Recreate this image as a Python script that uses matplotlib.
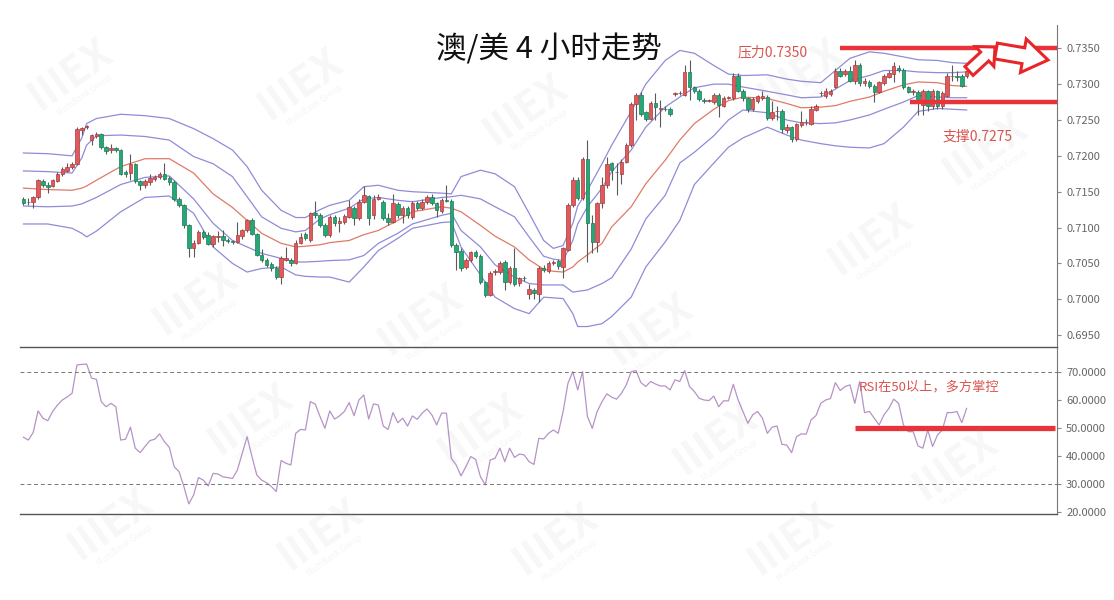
import numpy as np
import matplotlib.pyplot as plt
from matplotlib.patches import FancyArrow
from matplotlib.transforms import IdentityTransform
from matplotlib.ticker import FormatStrFormatter

plt.rcParams['font.family'] = ['Noto Sans CJK SC', 'DejaVu Sans']

# AUD/USD 4h candles, prices in 1/10000
opens = [7140, 7136, 7136, 7142, 7165, 7159, 7158, 7165, 7174, 7179,
         7184, 7188, 7236, 7240, 7222, 7227, 7230, 7212, 7208, 7211,
         7208, 7177, 7176, 7188, 7165, 7159, 7164, 7168, 7171, 7175,
         7169, 7164, 7140, 7131, 7103, 7071, 7079, 7094, 7089, 7077,
         7087, 7088, 7082, 7081, 7080, 7088, 7096, 7111, 7091, 7062,
         7055, 7049, 7044, 7031, 7055, 7055, 7051, 7079, 7091, 7082,
         7121, 7118, 7104, 7089, 7115, 7106, 7108, 7115, 7127, 7113,
         7136, 7144, 7117, 7140, 7136, 7113, 7108, 7133, 7117, 7127,
         7115, 7134, 7127, 7136, 7143, 7134, 7123, 7138, 7137, 7075,
         7068, 7045, 7055, 7066, 7061, 7024, 7006, 7038, 7038, 7052,
         7024, 7044, 7023, 7030, 7008, 7013, 7008, 7043, 7039, 7050,
         7053, 7045, 7069, 7131, 7167, 7141, 7196, 7107, 7080, 7134,
         7159, 7190, 7178, 7175, 7192, 7215, 7272, 7285, 7261, 7252,
         7274, 7266, 7266, 7266, 7286, 7287, 7285, 7317, 7296, 7291,
         7278, 7277, 7275, 7285, 7270, 7281, 7280, 7312, 7291, 7280,
         7265, 7276, 7281, 7282, 7253, 7262, 7263, 7236, 7240, 7223,
         7243, 7247, 7245, 7264, 7287, 7284, 7286, 7296, 7319, 7314,
         7319, 7305, 7326, 7301, 7303, 7298, 7289, 7301, 7310, 7314,
         7322, 7320, 7296, 7289, 7289, 7271, 7290, 7269, 7290, 7269,
         7284, 7311, 7311, 7312, 7311]
highs = [7143, 7141, 7144, 7168, 7168, 7164, 7168, 7177, 7185, 7190,
         7192, 7240, 7240, 7243, 7231, 7233, 7232, 7214, 7217, 7213,
         7210, 7180, 7203, 7190, 7167, 7168, 7175, 7173, 7178, 7190,
         7172, 7166, 7142, 7133, 7105, 7082, 7097, 7097, 7094, 7090,
         7095, 7096, 7085, 7083, 7108, 7098, 7112, 7114, 7093, 7070,
         7057, 7052, 7046, 7060, 7073, 7058, 7082, 7092, 7094, 7122,
         7137, 7120, 7106, 7117, 7118, 7115, 7119, 7138, 7130, 7140,
         7158, 7146, 7145, 7147, 7138, 7120, 7147, 7136, 7130, 7130,
         7137, 7137, 7140, 7146, 7147, 7136, 7141, 7159, 7140, 7078,
         7071, 7058, 7068, 7069, 7063, 7026, 7040, 7042, 7054, 7055,
         7047, 7072, 7031, 7032, 7022, 7016, 7046, 7048, 7053, 7055,
         7056, 7073, 7134, 7170, 7170, 7199, 7222, 7117, 7136, 7171,
         7198, 7192, 7190, 7195, 7218, 7275, 7287, 7289, 7263, 7276,
         7288, 7278, 7270, 7268, 7289, 7290, 7326, 7333, 7298, 7293,
         7280, 7279, 7288, 7288, 7283, 7284, 7315, 7316, 7293, 7282,
         7282, 7285, 7291, 7285, 7277, 7270, 7266, 7245, 7242, 7246,
         7263, 7252, 7270, 7272, 7291, 7294, 7293, 7322, 7322, 7321,
         7325, 7333, 7330, 7308, 7306, 7300, 7305, 7314, 7320, 7331,
         7327, 7322, 7298, 7293, 7292, 7293, 7292, 7293, 7292, 7290,
         7316, 7326, 7318, 7314, 7322]
lows = [7131, 7131, 7127, 7140, 7157, 7148, 7156, 7163, 7172, 7177,
        7182, 7187, 7229, 7238, 7215, 7225, 7210, 7203, 7204, 7205,
        7173, 7171, 7166, 7162, 7152, 7155, 7160, 7165, 7168, 7166,
        7160, 7137, 7129, 7100, 7059, 7059, 7077, 7084, 7075, 7073,
        7080, 7074, 7078, 7077, 7078, 7084, 7094, 7089, 7060, 7052,
        7045, 7040, 7028, 7022, 7053, 7047, 7049, 7077, 7083, 7080,
        7113, 7101, 7087, 7087, 7102, 7094, 7105, 7113, 7104, 7111,
        7134, 7103, 7112, 7138, 7110, 7103, 7106, 7114, 7106, 7114,
        7112, 7124, 7124, 7133, 7131, 7115, 7121, 7135, 7073, 7041,
        7040, 7042, 7052, 7057, 7022, 7003, 7004, 7034, 7035, 7013,
        7021, 7019, 7019, 7026, 7001, 7001, 6996, 7038, 7036, 7048,
        7042, 7029, 7067, 7129, 7138, 7138, 7052, 7064, 7066, 7127,
        7155, 7166, 7145, 7161, 7190, 7213, 7250, 7255, 7248, 7250,
        7250, 7240, 7262, 7256, 7284, 7285, 7283, 7278, 7288, 7276,
        7274, 7275, 7272, 7254, 7268, 7279, 7278, 7289, 7277, 7261,
        7262, 7273, 7278, 7250, 7250, 7250, 7232, 7232, 7219, 7221,
        7240, 7243, 7243, 7262, 7284, 7281, 7284, 7294, 7310, 7312,
        7303, 7300, 7298, 7298, 7295, 7275, 7287, 7299, 7308, 7303,
        7317, 7293, 7287, 7285, 7257, 7257, 7262, 7266, 7266, 7266,
        7282, 7305, 7305, 7296, 7309]
closes = [7134, 7135, 7142, 7167, 7159, 7156, 7166, 7175, 7181, 7185,
          7188, 7238, 7239, 7241, 7229, 7231, 7212, 7207, 7211, 7208,
          7175, 7175, 7189, 7165, 7159, 7165, 7169, 7171, 7175, 7168,
          7164, 7140, 7131, 7103, 7071, 7079, 7094, 7087, 7077, 7088,
          7088, 7082, 7081, 7080, 7090, 7096, 7110, 7091, 7062, 7055,
          7048, 7043, 7031, 7057, 7057, 7050, 7079, 7087, 7086, 7120,
          7118, 7103, 7089, 7115, 7106, 7109, 7116, 7128, 7113, 7136,
          7145, 7113, 7140, 7143, 7113, 7108, 7134, 7117, 7127, 7117,
          7134, 7127, 7136, 7142, 7134, 7124, 7138, 7137, 7075, 7066,
          7043, 7055, 7066, 7060, 7024, 7006, 7037, 7039, 7051, 7024,
          7044, 7022, 7029, 7029, 7015, 7009, 7043, 7041, 7050, 7052,
          7046, 7071, 7131, 7167, 7141, 7196, 7107, 7080, 7134, 7159,
          7188, 7180, 7177, 7192, 7215, 7272, 7285, 7259, 7251, 7274,
          7268, 7266, 7265, 7259, 7287, 7288, 7317, 7296, 7291, 7279,
          7277, 7277, 7285, 7271, 7280, 7282, 7312, 7291, 7280, 7265,
          7279, 7283, 7284, 7253, 7261, 7263, 7237, 7240, 7224, 7244,
          7247, 7247, 7266, 7269, 7288, 7291, 7291, 7319, 7312, 7319,
          7305, 7326, 7301, 7305, 7298, 7289, 7303, 7312, 7315, 7325,
          7320, 7296, 7289, 7290, 7276, 7290, 7270, 7290, 7269, 7288,
          7312, 7311, 7310, 7298, 7319]

# band lines read at these candle positions
band_idx = [0, 5, 10, 12, 13, 15, 20, 25, 30, 35,
            39, 43, 46, 49, 53, 56, 58, 61, 63, 67,
            70, 73, 77, 80, 86, 88, 90, 94, 97, 101,
            104, 107, 109, 111, 113, 114, 116, 119, 121, 125,
            128, 132, 135, 138, 142, 145, 148, 153, 157, 160,
            164, 167, 170, 174, 177, 181, 184, 188, 191, 194]
band_top = [7204, 7203, 7200, 7225, 7245, 7252, 7258, 7256, 7252, 7238,
            7224, 7208, 7185, 7152, 7124, 7114, 7114, 7125, 7131, 7138,
            7157, 7159, 7152, 7150, 7148, 7147, 7171, 7180, 7175, 7157,
            7120, 7082, 7071, 7075, 7106, 7130, 7152, 7189, 7215, 7262,
            7300, 7333, 7347, 7343, 7326, 7314, 7312, 7313, 7307, 7304,
            7302, 7319, 7336, 7345, 7343, 7338, 7334, 7333, 7330, 7329]
band_up = [7179, 7178, 7176, 7197, 7215, 7228, 7229, 7227, 7222, 7199,
           7189, 7171, 7143, 7115, 7099, 7094, 7096, 7112, 7118, 7127,
           7140, 7142, 7138, 7136, 7142, 7143, 7145, 7140, 7129, 7115,
           7087, 7060, 7056, 7054, 7082, 7105, 7129, 7155, 7178, 7208,
           7240, 7268, 7282, 7295, 7300, 7300, 7296, 7290, 7285, 7281,
           7282, 7293, 7305, 7312, 7319, 7319, 7317, 7316, 7316, 7317]
band_mid = [7155, 7153, 7152, 7155, 7158, 7166, 7185, 7196, 7196, 7176,
            7147, 7128, 7110, 7092, 7078, 7073, 7074, 7076, 7079, 7082,
            7090, 7096, 7110, 7122, 7129, 7127, 7122, 7103, 7088, 7073,
            7055, 7042, 7039, 7038, 7045, 7052, 7062, 7078, 7101, 7129,
            7161, 7194, 7222, 7245, 7265, 7277, 7282, 7280, 7273, 7267,
            7268, 7270, 7276, 7282, 7290, 7299, 7303, 7302, 7298, 7297]
band_dn = [7130, 7129, 7130, 7133, 7136, 7142, 7160, 7170, 7172, 7140,
           7106, 7082, 7073, 7064, 7057, 7052, 7052, 7053, 7054, 7055,
           7061, 7078, 7092, 7105, 7117, 7120, 7096, 7073, 7048, 7031,
           7022, 7020, 7020, 7020, 7010, 7011, 7013, 7022, 7030, 7070,
           7112, 7145, 7190, 7205, 7228, 7250, 7264, 7260, 7250, 7246,
           7245, 7246, 7250, 7257, 7265, 7275, 7284, 7282, 7281, 7281]
band_bot = [7105, 7105, 7099, 7092, 7087, 7095, 7122, 7142, 7144, 7120,
            7073, 7050, 7038, 7043, 7045, 7034, 7032, 7031, 7031, 7024,
            7045, 7068, 7085, 7099, 7107, 7108, 7073, 7034, 7003, 6987,
            6980, 7003, 7002, 7001, 6980, 6962, 6962, 6966, 6976, 7003,
            7045, 7080, 7110, 7160, 7190, 7212, 7225, 7240, 7229, 7222,
            7217, 7214, 7212, 7211, 7217, 7240, 7262, 7266, 7265, 7264]

rsi = [46.8, 45.8, 48.5, 56.2, 53.6, 52.7, 56.0, 58.3, 60.1, 61.2,
       62.5, 72.6, 72.8, 72.9, 67.9, 67.5, 59.5, 57.7, 58.9, 57.7,
       45.8, 46.1, 50.4, 42.9, 41.3, 43.5, 45.6, 46.1, 48.0, 45.2,
       43.2, 36.3, 34.5, 29.2, 23.0, 26.2, 32.4, 31.5, 29.4, 33.9,
       33.7, 32.7, 32.4, 32.1, 35.1, 41.0, 47.0, 39.9, 33.3, 31.5,
       30.6, 29.2, 27.4, 38.5, 37.5, 36.9, 48.2, 49.6, 49.4, 59.5,
       58.7, 54.2, 50.0, 56.2, 53.3, 54.4, 56.0, 59.2, 54.5, 60.1,
       61.9, 53.3, 58.7, 58.3, 50.8, 49.6, 55.6, 52.0, 53.6, 50.8,
       54.4, 53.2, 55.4, 56.9, 54.8, 51.2, 55.4, 55.4, 39.3, 36.9,
       33.0, 36.3, 39.9, 38.9, 32.7, 29.8, 38.7, 39.3, 42.9, 38.1,
       42.9, 39.6, 40.8, 40.5, 38.1, 37.1, 46.4, 46.2, 48.2, 49.4,
       48.2, 56.0, 66.1, 70.2, 63.7, 70.2, 54.2, 50.0, 56.0, 59.5,
       62.3, 61.1, 60.4, 62.5, 65.5, 70.2, 70.6, 66.3, 64.9, 66.7,
       65.8, 65.1, 65.1, 63.7, 67.3, 66.7, 70.6, 64.9, 63.1, 60.7,
       60.1, 59.9, 61.5, 57.7, 59.8, 59.8, 65.7, 60.1, 56.0, 51.8,
       54.8, 56.0, 53.6, 48.2, 50.4, 50.8, 44.3, 44.0, 41.3, 47.0,
       48.0, 47.9, 53.0, 54.5, 58.9, 60.1, 60.6, 66.3, 63.5, 64.9,
       65.5, 58.9, 66.7, 55.6, 56.0, 53.6, 51.2, 54.8, 57.1, 60.4,
       58.9, 51.2, 48.8, 48.8, 43.7, 42.9, 49.4, 43.5, 47.6, 49.4,
       55.6, 55.6, 56.0, 52.0, 57.1]

price_ticks = [0.6950, 0.7000, 0.7050, 0.7100, 0.7150, 0.7200, 0.7250, 0.7300, 0.7350]
rsi_ticks = [20, 30, 40, 50, 60, 70]
resistance = 0.7350
support = 0.7275

o = np.array(opens) / 1e4
h = np.array(highs) / 1e4
l = np.array(lows) / 1e4
c = np.array(closes) / 1e4
x = np.arange(len(c))
rise = c >= o

RED = '#e05a5c'
GREEN = '#25a878'
MARK = '#e8333a'

fig = plt.figure(figsize=(11.14, 6.0), dpi=100)
ax = fig.add_axes([0.018, 0.4217, 0.9309, 0.5367])
ax2 = fig.add_axes([0.018, 0.1433, 0.9309, 0.2783])

# ---- candles ----
ax.vlines(x, l, h, color='#5a5a5a', lw=0.8, zorder=2)
body_low = np.minimum(o, c)
body_h = np.maximum(np.abs(c - o), 0.00007)
ax.bar(x, body_h, bottom=body_low, width=0.72,
       color=np.where(rise, RED, GREEN),
       edgecolor=np.where(rise, '#a83a3c', '#187a55'), linewidth=0.5, zorder=3)

# ---- bands ----
bi = np.array(band_idx)
for vals, col in [(band_top, '#8e8cd8'), (band_up, '#8e8cd8'), (band_mid, '#e07a66'),
                  (band_dn, '#8e8cd8'), (band_bot, '#8e8cd8')]:
    ax.plot(bi, np.array(vals) / 1e4, color=col, lw=0.9, zorder=1)

ax.axhline(resistance, xmin=0.791, xmax=1.0, color=MARK, lw=3.2, solid_capstyle='butt', zorder=4)
ax.axhline(support, xmin=0.858, xmax=1.0, color=MARK, lw=3.2, solid_capstyle='butt', zorder=4)

ax.set_xlim(-0.7, 212.6)
ax.set_ylim(0.69335, 0.73825)
ax.yaxis.tick_right()
ax.set_yticks(price_ticks)
ax.yaxis.set_major_formatter(FormatStrFormatter('%.4f'))
ax.tick_params(axis='y', labelsize=8, labelcolor='#666666', color='#888888', length=3, width=0.8)
ax.tick_params(axis='x', bottom=False, labelbottom=False)
for s in ['top', 'left', 'bottom']:
    ax.spines[s].set_visible(False)
ax.spines['right'].set_color('#777777')
ax.spines['right'].set_linewidth(0.8)

# ---- RSI ----
ax2.plot(x, rsi, color='#b693c6', lw=0.9)
for lv in (70, 30):
    ax2.axhline(lv, color='#777777', lw=0.7, ls=(0, (4, 3)))
ax2.axhline(50, xmin=0.805, xmax=0.998, color=MARK, lw=3.8, solid_capstyle='butt')
ax2.set_xlim(-0.7, 212.6)
ax2.set_ylim(19.4, 79.0)
ax2.yaxis.tick_right()
ax2.set_yticks(rsi_ticks)
ax2.yaxis.set_major_formatter(FormatStrFormatter('%.4f'))
ax2.tick_params(axis='y', labelsize=8, labelcolor='#666666', color='#888888', length=3, width=0.8)
ax2.tick_params(axis='x', bottom=False, labelbottom=False)
ax2.spines['left'].set_visible(False)
for s in ['top', 'bottom']:
    ax2.spines[s].set_color('#555555')
    ax2.spines[s].set_linewidth(1.0)
ax2.spines['right'].set_color('#777777')
ax2.spines['right'].set_linewidth(0.8)


def px(xp, yp):
    return xp / 1114, 1 - yp / 600


fig.text(*px(549, 50), '澳/美 4 小时走势', fontsize=22, ha='center', va='center', color='#111111')
fig.text(*px(738, 52), '压力0.7350', fontsize=10, ha='left', va='center', color='#d9534f')
fig.text(*px(943, 137), '支撑0.7275', fontsize=10, ha='left', va='center', color='#d9534f')
fig.text(*px(859, 387), 'RSI在50以上，多方掌控', fontsize=9.5, ha='left', va='center', color='#d9534f')

# hollow arrows (pixel coords, origin bottom-left)
for (x0, y0, dx, dy, w, hw, hl) in [(969, 529, 26, 24, 12, 27, 14), (996, 549, 52, -9, 16, 34, 25)]:
    arr = FancyArrow(x0, y0, dx, dy, width=w, head_width=hw, head_length=hl,
                     length_includes_head=True, fc='white', ec='#e8262a', lw=2.2,
                     transform=IdentityTransform())
    fig.add_artist(arr)

# faint "MEX / MultiBank Group" watermarks
marks = [(70, 75), (300, 85), (525, 110), (800, 75), (985, 150),
         (195, 300), (420, 320), (650, 330), (870, 240),
         (250, 420), (480, 430), (715, 440), (955, 465),
         (110, 525), (320, 535), (555, 540), (790, 540)]
for (mx, my) in marks:
    fig.text(*px(mx, my), 'IIIEX', fontsize=30, fontweight='bold', rotation=35,
             ha='center', va='center', color='#9a9a9a', alpha=0.08)
    fig.text(*px(mx + 14, my + 20), 'MultiBank Group', fontsize=6, rotation=35,
             ha='center', va='center', color='#9a9a9a', alpha=0.10)

fig.savefig('out.png', dpi=100)
